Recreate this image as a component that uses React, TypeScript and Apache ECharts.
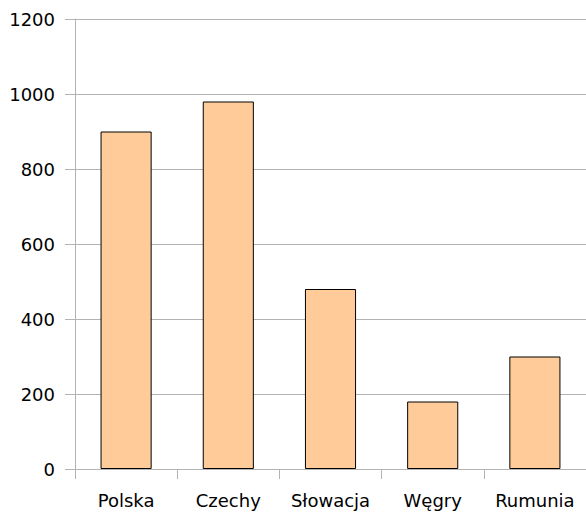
import React, { useEffect, useRef } from "react";
import * as echarts from "echarts";

const categories = ["Polska", "Czechy", "Słowacja", "Węgry", "Rumunia"];
const values = [900, 980, 480, 180, 300];

export default function App() {
  const ref = useRef<HTMLDivElement>(null);
  useEffect(() => {
    const chart = echarts.init(ref.current!, null, { renderer: "svg" });
    chart.setOption({
      animation: false,
      backgroundColor: "#ffffff",
      textStyle: { fontFamily: "DejaVu Sans" },
      grid: { left: 75, right: 0, top: 19, bottom: 44, containLabel: false },
      xAxis: {
        type: "category",
        data: categories,
        axisLine: { show: true, lineStyle: { color: "#b3b3b3", width: 1 } },
        axisTick: { show: true, length: 10, lineStyle: { color: "#b3b3b3" } },
        axisLabel: {
          color: "#000",
          fontSize: 18,
          margin: 22,
          interval: 0,
          hideOverlap: false,
          fontFamily: "DejaVu Sans",
        },
      },
      yAxis: {
        type: "value",
        min: 0,
        max: 1200,
        interval: 200,
        axisLine: { show: true, lineStyle: { color: "#b3b3b3", width: 1 } },
        axisTick: { show: true, length: 10, lineStyle: { color: "#b3b3b3" } },
        axisLabel: {
          color: "#000",
          fontSize: 18,
          margin: 20,
          fontFamily: "DejaVu Sans",
          formatter: (v: number) => String(v),
        },
        splitLine: { show: true, lineStyle: { color: "#b3b3b3", width: 1 } },
      },
      series: [
        {
          type: "bar",
          data: values,
          barWidth: "50%",
          itemStyle: { color: "#ffcc99", borderColor: "#000000", borderWidth: 1 },
        },
      ],
    });
    return () => chart.dispose();
  }, []);
  return <div ref={ref} style={{ width: 586, height: 513, position: "absolute", left: 0, top: 0 }} />;
}
